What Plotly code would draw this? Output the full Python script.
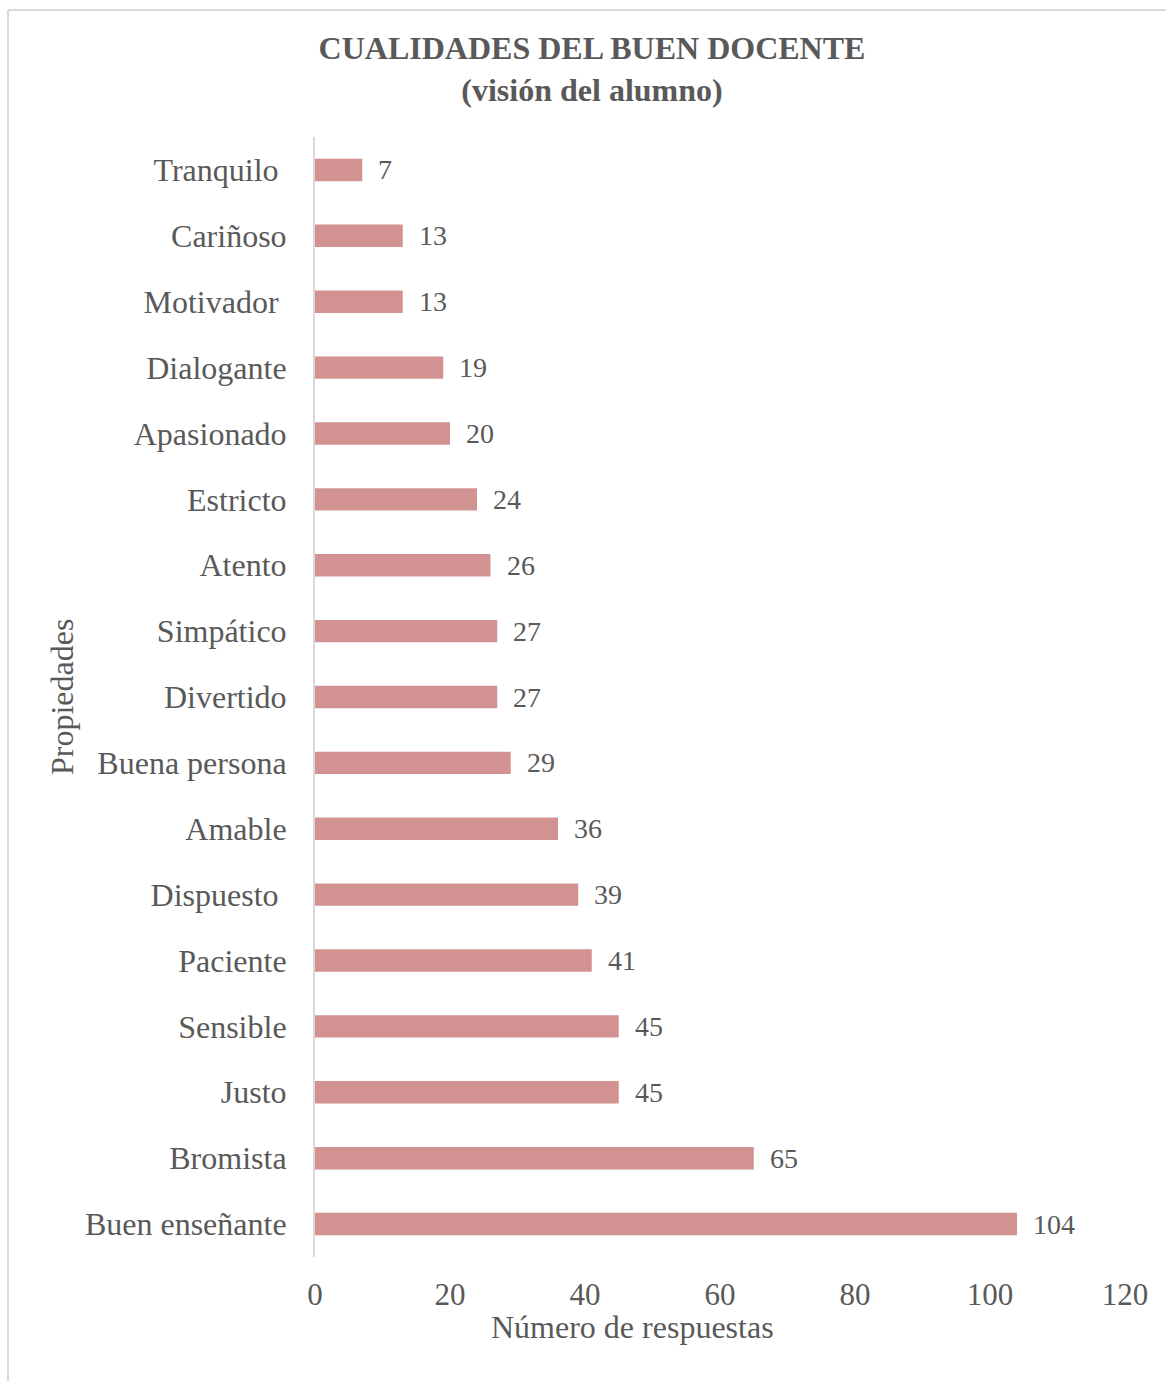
import plotly.graph_objects as go

categories = ["Tranquilo\u00a0", "Cariñoso", "Motivador\u00a0", "Dialogante", "Apasionado", "Estricto",
              "Atento", "Simpático", "Divertido", "Buena persona", "Amable", "Dispuesto\u00a0",
              "Paciente", "Sensible", "Justo", "Bromista", "Buen enseñante"]
values = [7, 13, 13, 19, 20, 24, 26, 27, 27, 29, 36, 39, 41, 45, 45, 65, 104]
x_ticks = [0, 20, 40, 60, 80, 100, 120]

TXT = "#595959"
FONT = "Liberation Serif, Times New Roman, serif"

W, H = 1166, 1381
L, R, T, B = 315, 41, 137, 124
pw = W - L - R
ph = H - T - B

def px_x(p):
    return (p - L) / pw

def px_y(p):
    return (H - B - p) / ph

fig = go.Figure()
fig.add_trace(go.Bar(
    x=values, y=categories, orientation="h",
    marker=dict(color="#D39292", line=dict(width=0)),
    width=0.34, hoverinfo="skip",
))

for c, v in zip(categories, values):
    fig.add_annotation(x=v, y=c, xref="x", yref="y", text=str(v), showarrow=False,
                       xanchor="left", yanchor="middle", xshift=14,
                       font=dict(family=FONT, size=28, color=TXT))

fig.add_annotation(x=(632 - L) / pw, y=px_y(1327), xref="paper", yref="paper",
                   text="Número de respuestas", showarrow=False,
                   xanchor="center", yanchor="middle",
                   font=dict(family=FONT, size=32, color=TXT))
fig.add_annotation(x=px_x(62), y=px_y(697), xref="paper", yref="paper",
                   text="Propiedades", showarrow=False, textangle=-90,
                   xanchor="center", yanchor="middle",
                   font=dict(family=FONT, size=32, color=TXT))

fig.add_shape(type="line", xref="paper", yref="paper",
              x0=px_x(8), x1=px_x(8), y0=px_y(10), y1=px_y(H + 5),
              line=dict(color="#D9D9D9", width=2))
fig.add_shape(type="line", xref="paper", yref="paper",
              x0=px_x(8), x1=px_x(W + 5), y0=px_y(10), y1=px_y(10),
              line=dict(color="#D9D9D9", width=2))

fig.update_layout(
    width=W, height=H,
    margin=dict(l=L, r=R, t=T, b=B, pad=0),
    paper_bgcolor="white", plot_bgcolor="white",
    showlegend=False,
    title=dict(text="<b>CUALIDADES DEL BUEN DOCENTE</b><br><b>(visión del alumno)</b>",
               x=592 / W, xref="container", xanchor="center",
               y=1 - 59 / H, yref="container", yanchor="middle",
               font=dict(family=FONT, size=32, color=TXT)),
    xaxis=dict(range=[0, 120], tickvals=x_ticks, ticktext=[str(t) for t in x_ticks],
               showgrid=False, zeroline=False, showline=False,
               ticks="", ticklabelstandoff=16,
               tickfont=dict(family=FONT, size=31, color=TXT)),
    yaxis=dict(categoryorder="array", categoryarray=categories, autorange="reversed",
               showgrid=False, zeroline=False, showline=True, linecolor="#D9D9D9", linewidth=2,
               ticks="", ticklabelstandoff=20,
               tickfont=dict(family=FONT, size=32, color=TXT)),
)

fig.write_html("out.html")
